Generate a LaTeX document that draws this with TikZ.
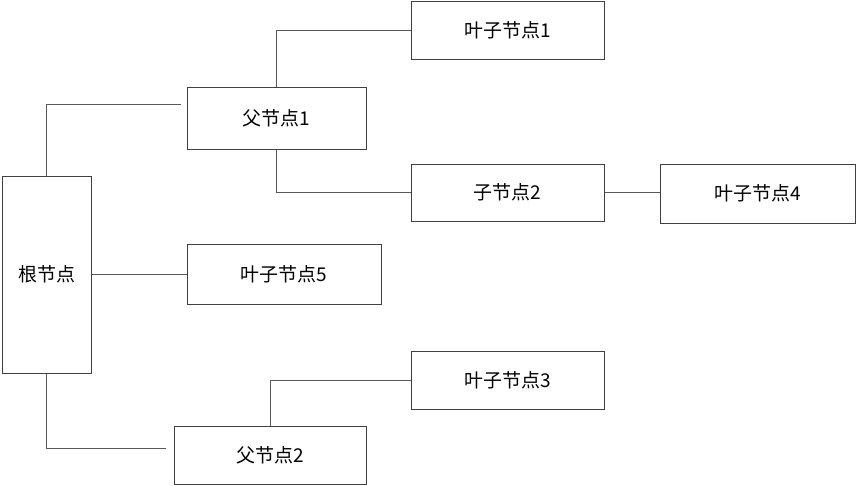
\documentclass[tikz,border=0pt]{standalone}
\usepackage{fontspec}
\newfontfamily\cjk{Noto Sans CJK SC}
\begin{document}
\begin{tikzpicture}[x=1pt,y=-1pt,
  box/.style={draw=black!75,line width=1pt,fill=white,inner sep=0pt,font=\cjk\fontsize{19}{22}\selectfont},
  link/.style={draw=black!65,line width=1pt}]
\useasboundingbox (0,0) rectangle (856,485);
\node[box,minimum width=89,minimum height=197] (root) at (46.5,274.5) {根节点};
\node[box,minimum width=179,minimum height=62] (p1) at (276.5,118) {父节点1};
\node[box,minimum width=193,minimum height=58] (l1) at (507.5,30) {叶子节点1};
\node[box,minimum width=193,minimum height=57] (c2) at (507.5,192.5) {子节点2};
\node[box,minimum width=195,minimum height=59] (l4) at (757.5,193.5) {叶子节点4};
\node[box,minimum width=194,minimum height=60] (l5) at (284,274) {叶子节点5};
\node[box,minimum width=193,minimum height=58] (l3) at (507.5,380) {叶子节点3};
\node[box,minimum width=192,minimum height=58] (p2) at (270,455) {父节点2};
\coordinate (e1) at (181,104);
\coordinate (e2) at (166,448);
\draw[link] (root.north) |- (e1);
\draw[link] (root.south) |- (e2);
\draw[link] (p1.north) |- (l1.west);
\draw[link] (p1.south) |- (c2.west);
\draw[link] (c2.east) -- (c2.east -| l4.west);
\draw[link] (root.east |- l5.west) -- (l5.west);
\draw[link] (p2.north) |- (l3.west);
\end{tikzpicture}
\end{document}
